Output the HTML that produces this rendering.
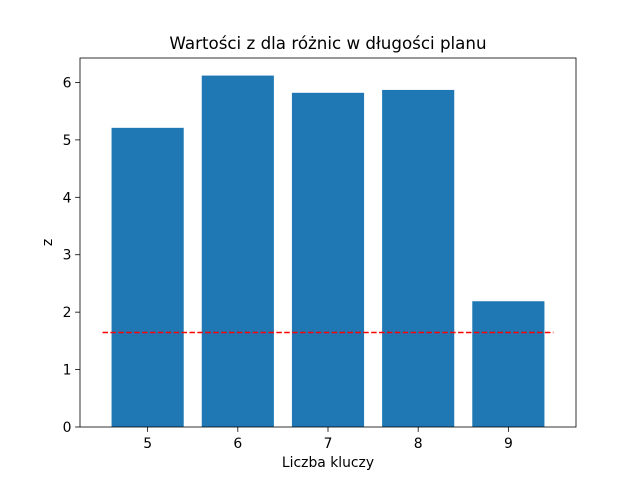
<!DOCTYPE html>
<html><head><meta charset="utf-8"><style>body{margin:0;background:#fff}svg{display:block;font-family:"DejaVu Sans","Liberation Sans",sans-serif}</style></head>
<body>
<svg id="c" width="640" height="480"></svg>
<script>
const categories=[5,6,7,8,9];
const zValues=[5.21,6.12,5.82,5.87,2.19];
const threshold=[1.645];
const yTicks=[0,1,2,3,4,5,6];
const NS="http://www.w3.org/2000/svg";
const svg=document.getElementById('c');
const L=80,R=576,T=58,B=427;
const xmin=4.25,xmax=9.75,ymin=0,ymax=Math.max(...zValues)*1.05;
const xs=v=>L+(v-xmin)/(xmax-xmin)*(R-L);
const ys=v=>B-(v-ymin)/(ymax-ymin)*(B-T);
function mk(t,a,txt){const e=document.createElementNS(NS,t);for(const k in a)e.setAttribute(k,a[k]);if(txt!==undefined)e.textContent=txt;svg.appendChild(e);return e;}
categories.forEach((c,i)=>{
 const x0=xs(c-0.4),x1=xs(c+0.4);
 const r=mk('rect',{x:x0,y:ys(zValues[i]),width:x1-x0,height:ys(0)-ys(zValues[i]),fill:'#1f77b4'});
 
 
 const t=mk('line',{x1:xs(c),x2:xs(c),y1:B,y2:B+4.9,stroke:'#000','stroke-width':0.8});
 
 
 const l=mk('text',{x:xs(c),y:B+21,'text-anchor':'middle','font-size':13.9},String(c));
 
 
});
yTicks.forEach(v=>{
 const t=mk('line',{x1:L-4.9,x2:L,y1:ys(v),y2:ys(v),stroke:'#000','stroke-width':0.8});
 
 
 const l=mk('text',{x:L-8.5,y:ys(v)+5,'text-anchor':'end','font-size':13.9},String(v));
 
 
});
const h=mk('line',{x1:xs(4.5),x2:xs(9.5),y1:ys(threshold[0]),y2:ys(threshold[0]),stroke:'#ff0000','stroke-width':1.5,'stroke-dasharray':'5.5,2.4'});


const f=mk('rect',{x:L,y:T,width:R-L,height:B-T,fill:'none',stroke:'#000','stroke-width':0.8});


const ti=mk('text',{x:(L+R)/2,y:T-9,'text-anchor':'middle','font-size':16.7},'Wartości z dla różnic w długości planu');


const xt=mk('text',{x:(L+R)/2,y:467,'text-anchor':'middle','font-size':13.9},'Liczba kluczy');


const yt=mk('text',{x:52,y:(T+B)/2,'text-anchor':'middle','font-size':13.9,transform:'rotate(-90 52 '+((T+B)/2)+')'},'z');


</script>
</body></html>
